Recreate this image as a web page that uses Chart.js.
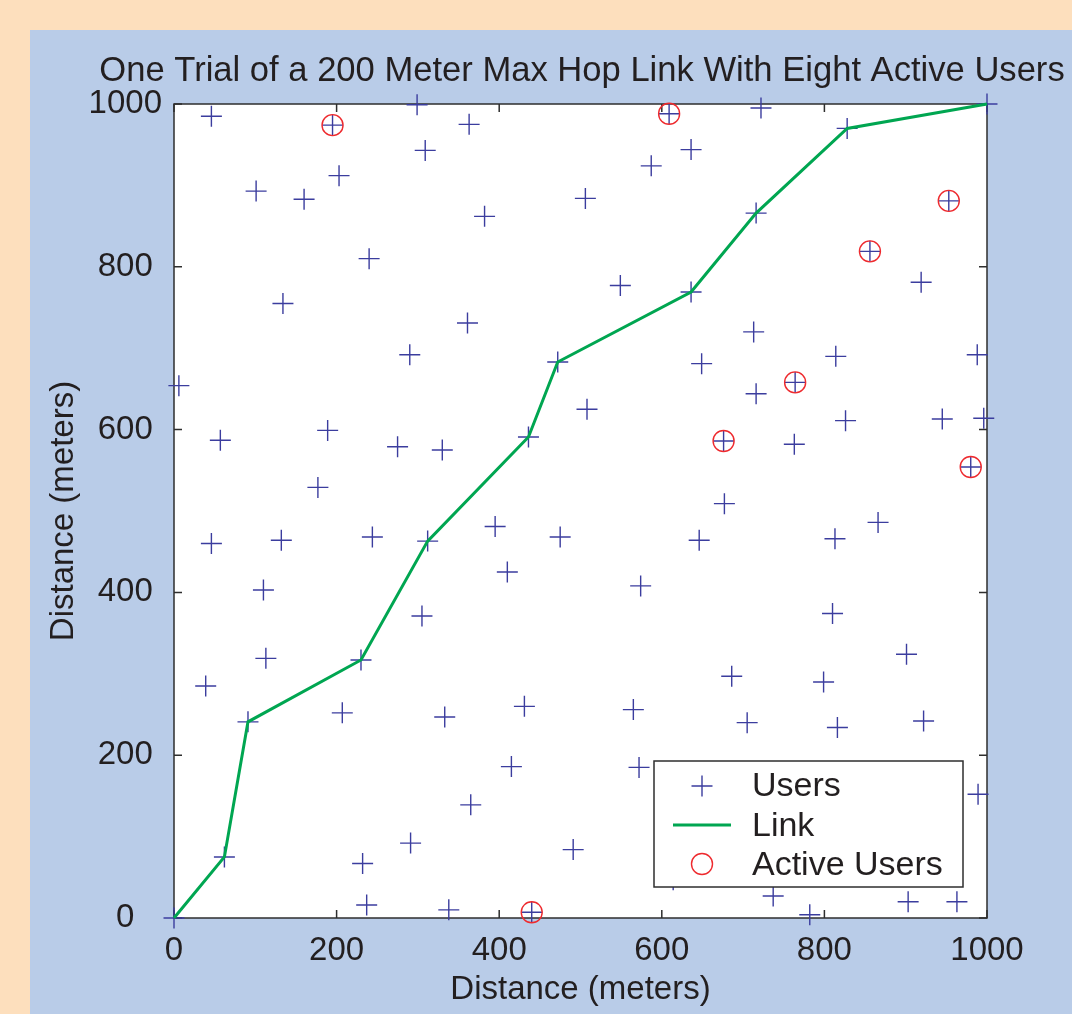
<!DOCTYPE html>
<html>
<head>
<meta charset="utf-8">
<title>One Trial of a 200 Meter Max Hop Link</title>
<script src="https://cdn.jsdelivr.net/npm/chart.js@4"></script>
<style>
  html, body { margin: 0; padding: 0; background: #fddfbd; }
  #hopChart { display: block; }
</style>
</head>
<body>
<canvas id="hopChart" width="1072" height="1014"></canvas>
<script>
// ====================== Data ======================
const usersX = [46, 195, 299, 363, 309, 203, 101, 160, 382, 240, 134, 361, 290, 6, 472, 57, 189, 275, 330, 436, 177,
  609, 722, 636, 587, 506, 828, 1000, 716, 953, 856, 549, 636, 919, 713, 649, 814, 988, 764, 716, 508, 826, 945, 996, 676, 763, 980, 677,
  46, 132, 244, 312, 395, 475, 410, 110, 305, 113, 230, 39, 91, 207, 333, 431, 415, 365, 62, 291, 232, 237, 338, 440, 491, 0,
  646, 813, 866, 574, 810, 901, 686, 799, 565, 705, 816, 922, 572, 989, 614, 737, 782, 903, 963];
const usersY = [985, 974, 999, 975, 943, 912, 893, 883, 862, 810, 755, 731, 692, 654, 683, 587, 599, 579, 575, 591, 529,
  988, 995, 944, 924, 884, 970, 1000, 866, 881, 819, 777, 769, 781, 720, 681, 690, 692, 658, 644, 625, 611, 613, 614, 586, 582, 554, 509,
  460, 464, 468, 463, 481, 468, 425, 403, 371, 319, 317, 285, 241, 252, 247, 260, 186, 139, 75, 92, 67, 16, 10, 7, 84, 0,
  464, 466, 486, 408, 374, 324, 297, 290, 256, 240, 234, 242, 185, 152, 47, 27, 4, 20, 20];

const linkX = [0, 62, 91, 230, 312, 436, 472, 636, 716, 828, 1000];
const linkY = [0, 75, 241, 317, 463, 591, 683, 769, 866, 970, 1000];

const activeX = [195, 609, 953, 856, 764, 676, 980, 440];
const activeY = [974, 988, 881, 819, 658, 586, 554, 7];

const tickValues = [0, 200, 400, 600, 800, 1000];

const toPoints = (xs, ys) => xs.map((x, i) => ({ x: x, y: ys[i] }));

// ====================== Colours / fonts ======================
const PEACH = "#fddfbd";
const PANEL = "#b9cce8";
const TEXT = "#231f20";
const AXIS = "#2e2e2e";
const BLUE = "#3b3d9e";
const GREEN = "#00a651";
const RED = "#ee2a2e";
const FONT = "'Liberation Sans', Arial, Helvetica, sans-serif";

// ====================== Background, box and ticks ======================
const framePlugin = {
  id: "frame",
  beforeDraw(chart) {
    const { ctx, chartArea: a } = chart;
    ctx.save();
    ctx.fillStyle = PEACH;
    ctx.fillRect(0, 0, chart.width, chart.height);
    ctx.fillStyle = PANEL;
    ctx.fillRect(30, 30, chart.width - 30, chart.height - 30);
    ctx.fillStyle = "#ffffff";
    ctx.fillRect(a.left, a.top, a.right - a.left, a.bottom - a.top);
    ctx.restore();
  },
  beforeDatasetsDraw(chart) {
    const { ctx, chartArea: a, scales } = chart;
    ctx.save();
    ctx.strokeStyle = AXIS;
    ctx.lineWidth = 1.5;
    ctx.strokeRect(a.left, a.top, a.right - a.left, a.bottom - a.top);
    // inward ticks on all four sides
    const len = 8;
    ctx.beginPath();
    tickValues.forEach(v => {
      const px = scales.x.getPixelForValue(v);
      const py = scales.y.getPixelForValue(v);
      ctx.moveTo(px, a.bottom); ctx.lineTo(px, a.bottom - len);
      ctx.moveTo(px, a.top); ctx.lineTo(px, a.top + len);
      ctx.moveTo(a.left, py); ctx.lineTo(a.left + len, py);
      ctx.moveTo(a.right, py); ctx.lineTo(a.right - len, py);
    });
    ctx.stroke();
    ctx.restore();
  },
  afterDraw(chart) {
    const { ctx } = chart;
    ctx.save();
    // title
    ctx.fillStyle = TEXT;
    ctx.font = "34.6px " + FONT;
    ctx.textAlign = "center";
    ctx.textBaseline = "alphabetic";
    ctx.fillText("One Trial of a 200 Meter Max Hop Link With Eight Active Users", 582, 81);

    // legend box (inside plot, bottom right)
    const bx = 654, by = 761, bw = 309, bh = 126;
    ctx.fillStyle = "#ffffff";
    ctx.fillRect(bx, by, bw, bh);
    ctx.strokeStyle = AXIS;
    ctx.lineWidth = 1.5;
    ctx.strokeRect(bx, by, bw, bh);

    const mx = 702;
    const rows = [786, 825, 864];
    // Users marker
    ctx.strokeStyle = BLUE;
    ctx.lineWidth = 1.4;
    ctx.beginPath();
    ctx.moveTo(mx - 10.5, rows[0]); ctx.lineTo(mx + 10.5, rows[0]);
    ctx.moveTo(mx, rows[0] - 10.5); ctx.lineTo(mx, rows[0] + 10.5);
    ctx.stroke();
    // Link marker
    ctx.strokeStyle = GREEN;
    ctx.lineWidth = 3;
    ctx.beginPath();
    ctx.moveTo(673, rows[1]); ctx.lineTo(731, rows[1]);
    ctx.stroke();
    // Active users marker
    ctx.strokeStyle = RED;
    ctx.lineWidth = 1.4;
    ctx.beginPath();
    ctx.arc(mx, rows[2], 10.5, 0, Math.PI * 2);
    ctx.stroke();

    ctx.fillStyle = TEXT;
    ctx.font = "34px " + FONT;
    ctx.textAlign = "left";
    ctx.fillText("Users", 752, 796);
    ctx.fillText("Link", 752, 836);
    ctx.fillText("Active Users", 752, 875);
    ctx.restore();
  }
};

// ====================== Chart ======================
const ctx = document.getElementById("hopChart").getContext("2d");

new Chart(ctx, {
  type: "scatter",
  data: {
    datasets: [
      {
        label: "Users",
        data: toPoints(usersX, usersY),
        pointStyle: "cross",
        pointRadius: 10.5,
        borderColor: BLUE,
        borderWidth: 1.4,
        showLine: false,
        clip: false,
        order: 3
      },
      {
        label: "Link",
        data: toPoints(linkX, linkY),
        showLine: true,
        borderColor: GREEN,
        borderWidth: 3,
        pointRadius: 0,
        tension: 0,
        clip: false,
        order: 2
      },
      {
        label: "Active Users",
        data: toPoints(activeX, activeY),
        pointStyle: "circle",
        pointRadius: 10.5,
        borderColor: RED,
        backgroundColor: "rgba(0,0,0,0)",
        borderWidth: 1.4,
        showLine: false,
        clip: false,
        order: 1
      }
    ]
  },
  options: {
    responsive: false,
    animation: false,
    devicePixelRatio: 1,
    layout: { padding: { left: 40, right: 85, top: 104, bottom: 0 } },
    plugins: {
      legend: { display: false },
      tooltip: { enabled: false },
      title: { display: false }
    },
    scales: {
      x: {
        type: "linear",
        min: 0,
        max: 1000,
        afterFit: scale => { scale.height = 96; },
        afterBuildTicks: scale => { scale.ticks = tickValues.map(v => ({ value: v })); },
        grid: { display: false, drawTicks: false },
        border: { display: false },
        ticks: {
          padding: 13,
          color: TEXT,
          font: { family: FONT, size: 33 },
          callback: v => String(v)
        },
        title: {
          display: true,
          text: "Distance (meters)",
          color: TEXT,
          font: { family: FONT, size: 33 },
          padding: { top: 0, bottom: 4 }
        }
      },
      y: {
        type: "linear",
        min: 0,
        max: 1000,
        afterFit: scale => { scale.width = 134; },
        afterBuildTicks: scale => { scale.ticks = tickValues.map(v => ({ value: v })); },
        grid: { display: false, drawTicks: false },
        border: { display: false },
        ticks: {
          padding: 12,
          crossAlign: "center",
          color: TEXT,
          font: { family: FONT, size: 33 },
          callback: v => String(v)
        },
        title: {
          display: true,
          text: "Distance (meters)",
          color: TEXT,
          font: { family: FONT, size: 33 },
          padding: { top: 4, bottom: 0 }
        }
      }
    }
  },
  plugins: [framePlugin]
});
</script>
</body>
</html>
